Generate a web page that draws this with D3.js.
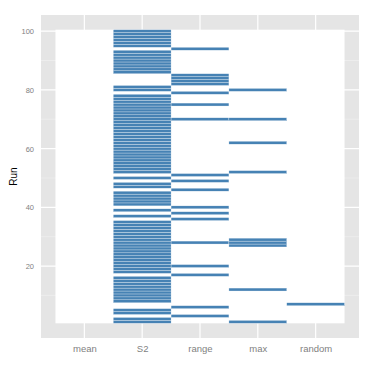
<!DOCTYPE html>
<html>
<head>
<meta charset="utf-8">
<script src="https://cdn.jsdelivr.net/npm/d3@7"></script>
<style>
  body { margin: 0; background: #fff; }
  .tick text { font-family: "Liberation Sans", Arial, sans-serif; fill: #7f7f7f; }
</style>
</head>
<body>
<div id="chart"></div>
<script>
// Methods on x axis
const methods = ['mean', 'S2', 'range', 'max', 'random'];

// Runs where each method was selected
const meanRuns = [];
const s2Runs = [1, 2, 4, 5, 8, 9, 10, 11, 12, 13, 14, 15, 16,
  18, 19, 20, 21, 22, 23, 24, 25, 26, 27, 28, 29, 30, 31, 32, 33, 34, 35,
  37, 39, 41, 42, 43, 44, 45, 47, 48, 50,
  52, 53, 54, 55, 56, 57, 58, 59, 60, 61, 62, 63, 64, 65, 66, 67, 68, 69, 70,
  71, 72, 73, 74, 75, 76, 77, 78, 80, 81,
  86, 87, 88, 89, 90, 91, 92, 93, 95, 96, 97, 98, 99, 100];
const rangeRuns = [3, 6, 17, 20, 28, 36, 38, 40, 46, 49, 51, 70, 75, 79, 82, 83, 84, 85, 94];
const maxRuns = [1, 12, 27, 28, 29, 52, 62, 70, 80];
const randomRuns = [7];

const yTicks = [20, 40, 60, 80, 100];
const yMinor = [10, 30, 50, 70, 90];

const runsByMethod = [meanRuns, s2Runs, rangeRuns, maxRuns, randomRuns];
const tiles = [];
runsByMethod.forEach((runs, i) => {
  runs.forEach(r => tiles.push({ method: methods[i], run: r }));
});

const W = 374, H = 374;
const panel = { left: 41, right: 359, top: 15, bottom: 338 };

const svg = d3.select('#chart').append('svg')
  .attr('width', W)
  .attr('height', H);

const x = d3.scaleLinear()
  .domain([0.25, methods.length + 0.75])
  .range([panel.left, panel.right]);
const xPos = m => methods.indexOf(m) + 1;

const y = d3.scaleLinear()
  .domain([-4.5, 105.5])
  .range([panel.bottom, panel.top]);

// Panel background
svg.append('rect')
  .attr('x', panel.left)
  .attr('y', panel.top)
  .attr('width', panel.right - panel.left)
  .attr('height', panel.bottom - panel.top)
  .attr('fill', '#e5e5e5');

// Minor grid
svg.append('g').selectAll('line')
  .data(yMinor)
  .enter().append('line')
  .attr('x1', panel.left).attr('x2', panel.right)
  .attr('y1', d => y(d)).attr('y2', d => y(d))
  .attr('stroke', '#f2f2f2')
  .attr('stroke-width', 0.6);

// Major grid
svg.append('g').selectAll('line')
  .data(yTicks)
  .enter().append('line')
  .attr('x1', panel.left).attr('x2', panel.right)
  .attr('y1', d => y(d)).attr('y2', d => y(d))
  .attr('stroke', '#fff')
  .attr('stroke-width', 1.2);

svg.append('g').selectAll('line')
  .data(methods)
  .enter().append('line')
  .attr('x1', d => x(xPos(d))).attr('x2', d => x(xPos(d)))
  .attr('y1', panel.top).attr('y2', panel.bottom)
  .attr('stroke', '#fff')
  .attr('stroke-width', 1.2);

// White data area
svg.append('rect')
  .attr('x', x(0.5))
  .attr('y', y(100.5))
  .attr('width', x(methods.length + 0.5) - x(0.5))
  .attr('height', y(0.5) - y(100.5))
  .attr('fill', '#fff');

// Tiles
svg.append('g').selectAll('rect')
  .data(tiles)
  .enter().append('rect')
  .attr('x', d => x(xPos(d.method) - 0.5))
  .attr('y', d => y(d.run + 0.5))
  .attr('width', x(1.5) - x(0.5))
  .attr('height', y(0.5) - y(1.5))
  .attr('fill', '#4682b4')
  .attr('stroke', '#fff')
  .attr('stroke-opacity', 0.8)
  .attr('stroke-width', 0.35);

// Axes
const xAxis = svg.append('g')
  .attr('transform', `translate(0,${panel.bottom})`)
  .call(d3.axisBottom(x)
    .tickValues(methods.map((m, i) => i + 1))
    .tickFormat(d => methods[d - 1])
    .tickSize(0)
    .tickPadding(7));
xAxis.select('.domain').remove();
xAxis.selectAll('text').style('font-size', '9.5px');

const yAxis = svg.append('g')
  .attr('transform', `translate(${panel.left},0)`)
  .call(d3.axisLeft(y)
    .tickValues(yTicks)
    .tickSize(0)
    .tickPadding(7));
yAxis.select('.domain').remove();
yAxis.selectAll('text').style('font-size', '7.5px');

// Y axis title
svg.append('text')
  .attr('transform', `translate(17,${(panel.top + panel.bottom) / 2}) rotate(-90)`)
  .attr('text-anchor', 'middle')
  .style('font-family', '"Liberation Sans", Arial, sans-serif')
  .style('font-size', '10px')
  .attr('fill', '#000')
  .text('Run');
</script>
</body>
</html>
